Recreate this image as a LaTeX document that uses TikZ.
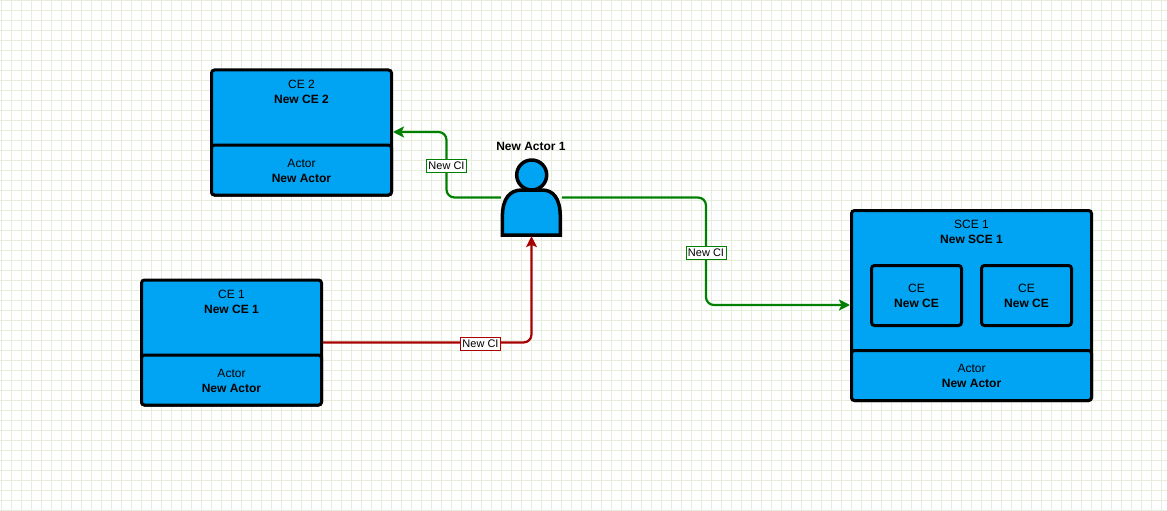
\documentclass[tikz,border=0pt]{standalone}
\usepackage{fontspec}
\setmainfont{Liberation Sans}
\usetikzlibrary{arrows.meta}
\definecolor{ceblue}{HTML}{00A4F2}
\definecolor{gridline}{HTML}{E6EDDB}
\definecolor{cigreen}{HTML}{008000}
\definecolor{cired}{HTML}{A80000}
\tikzset{
  cebox/.style={draw=black, fill=ceblue, line width=3pt, rounded corners=3pt, inner sep=0pt, minimum width=#1},
  cetext/.style={align=center, inner sep=0pt, font=\fontsize{12}{15}\selectfont},
  cilink/.style={line width=2.2pt, rounded corners=8pt, -{Stealth[length=11pt,width=11pt,inset=2.5pt]}},
  cilabel/.style={draw, fill=white, line width=1pt, inner sep=0pt, minimum width=40pt, minimum height=13pt, text=black, font=\fontsize{11}{13}\selectfont},
  actorpart/.style={draw=black, fill=ceblue, line width=3.5pt, line join=round}
}
\begin{document}
\begin{tikzpicture}[x=1pt, y=-1pt]
\useasboundingbox (0,0) rectangle (1167,511);
% grid
\foreach \gx in {0,...,116} \draw[gridline, line width=1pt] (\gx*10+1.5,0)--(\gx*10+1.5,511);
\foreach \gy in {0,...,51} \draw[gridline, line width=1pt] (0,\gy*10+0.5)--(1167,\gy*10+0.5);
% CE 2
\node[cebox=180pt, minimum height=125pt] (ce2) at (301.5,132.5) {};
\node[cebox=180pt, minimum height=50pt, anchor=south] (ce2actor) at (ce2.south) {};
\node[cetext] (ce2text) at (301.5,91.5) {CE 2\\\textbf{New CE 2}};
\node[cetext] (ce2actortext) at (301.5,170.5) {Actor\\\textbf{New Actor}};
% CE 1
\node[cebox=180pt, minimum height=125pt] (ce1) at (231.5,342.5) {};
\node[cebox=180pt, minimum height=50pt, anchor=south] (ce1actor) at (ce1.south) {};
\node[cetext] (ce1text) at (231.5,301.5) {CE 1\\\textbf{New CE 1}};
\node[cetext] (ce1actortext) at (231.5,380.5) {Actor\\\textbf{New Actor}};
% SCE 1
\node[cebox=240pt, minimum height=190pt] (sce1) at (971.5,305.5) {};
\node[cebox=240pt, minimum height=50pt, anchor=south] (sce1actor) at (sce1.south) {};
\node[cetext] (sce1text) at (971.5,231.5) {SCE 1\\\textbf{New SCE 1}};
\node[cetext] (sce1actortext) at (971.5,375.5) {Actor\\\textbf{New Actor}};
\node[cebox=90pt, minimum height=60pt] (sce1a) at (916.5,295.5) {};
\node[cebox=90pt, minimum height=60pt] (sce1b) at (1026.5,295.5) {};
\node[cetext] (sce1atext) at (916.5,295.5) {CE\\\textbf{New CE}};
\node[cetext] (sce1btext) at (1026.5,295.5) {CE\\\textbf{New CE}};
% actor
\node[minimum width=61pt, minimum height=77pt, inner sep=0pt] (actor1) at (531.5,197.5) {};
\draw[actorpart] (531.7,175) circle (15pt);
\draw[actorpart, line join=miter] (502.4,235)--(502.4,217) .. controls (502.4,198) and (510,190) .. (522,190)--(542,190) .. controls (553,190) and (560.3,198) .. (560.3,217)--(560.3,235)--cycle;
\node[inner sep=0pt, font=\fontsize{12}{15}\selectfont\bfseries] (actor1text) at (531,146.5) {New Actor 1};
% links
\coordinate (ci1pos) at (446.5,165.5);
\coordinate (ci2pos) at (706,252.5);
\coordinate (ci3pos) at (480.5,343.5);
\draw[cilink, cigreen] (actor1.west) -| (ci1pos) |- ([yshift=0.5pt]ce2.east);
\draw[cilink, cigreen] (actor1.east) -| (ci2pos) |- ([yshift=0.5pt]sce1.west);
\draw[cilink, cired] (ce1.east) -| (actor1.south);
\node[cilabel, draw=cigreen] (ci1) at (ci1pos) {New CI};
\node[cilabel, draw=cigreen] (ci2) at (ci2pos) {New CI};
\node[cilabel, draw=cired] (ci3) at (ci3pos) {New CI};
\end{tikzpicture}
\end{document}
